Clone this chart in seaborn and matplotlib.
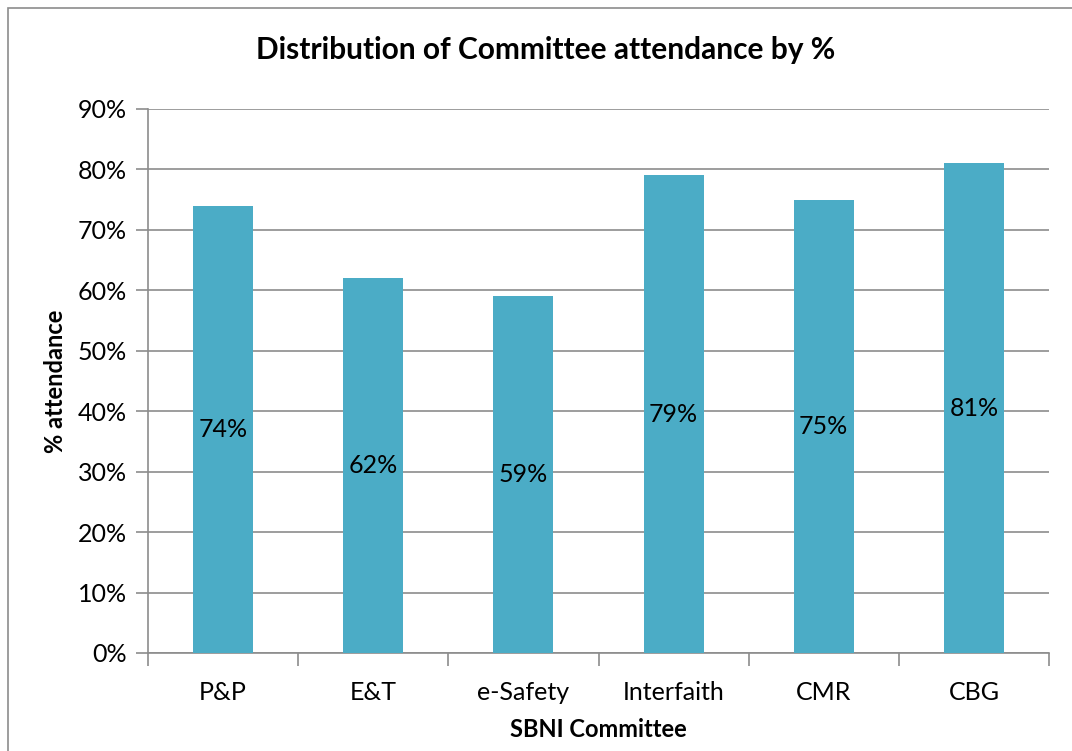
import pandas as pd
import seaborn as sns
import matplotlib.pyplot as plt
from matplotlib.patches import Rectangle

committees = ['P&P', 'E&T', 'e-Safety', 'Interfaith', 'CMR', 'CBG']
attendance = [74, 62, 59, 79, 75, 81]

df = pd.DataFrame({'Committee': committees, 'Attendance': attendance})

sns.set_theme(style='white', rc={'text.color': 'black', 'axes.labelcolor': 'black',
                                 'xtick.color': 'black', 'ytick.color': 'black'})
plt.rcParams['font.family'] = ['Lato', 'DejaVu Sans']

fig = plt.figure(figsize=(10.72, 7.51), dpi=100)
ax = fig.add_axes([148 / 1072, 1 - 653 / 751, (1049 - 148) / 1072, (653 - 109) / 751])

# outer chart frame
fig.patches.append(Rectangle((8 / 1072, -0.01), 1.1, 1 - 8 / 751 + 0.01, transform=fig.transFigure,
                             fill=False, edgecolor='#8c8c8c', linewidth=1.2))

sns.barplot(x='Committee', y='Attendance', data=df, color='#4BACC6', width=0.4,
            saturation=1, linewidth=0, ax=ax, zorder=3)

for i, v in enumerate(attendance):
    ax.text(i, v / 2, f'{v}%', ha='center', va='center', fontsize=18, color='black', zorder=4)

ax.set_ylim(0, 90)
ax.set_xlim(-0.5, len(committees) - 0.5)
ax.set_yticks(range(0, 91, 10))
ax.set_yticklabels([f'{t}%' for t in range(0, 91, 10)], fontsize=18)
ax.yaxis.grid(True, color='#8c8c8c', linewidth=1.2, zorder=0)
ax.tick_params(axis='x', labelsize=18, length=0, pad=20)
ax.tick_params(axis='y', left=True, length=9, width=1.2, color='#8c8c8c', pad=6)

# x tick marks between categories
ax.set_xticks([i - 0.5 for i in range(len(committees) + 1)], minor=True)
ax.tick_params(axis='x', which='minor', bottom=True, length=9, width=1.2, color='#8c8c8c')

for side in ['top', 'right']:
    ax.spines[side].set_visible(False)
for side in ['left', 'bottom']:
    ax.spines[side].set_color('#8c8c8c')
    ax.spines[side].set_linewidth(1.2)

ax.set_xlabel('SBNI Committee', fontsize=17, fontweight='bold', labelpad=10)
ax.set_ylabel('% attendance', fontsize=17, fontweight='bold', labelpad=8)
fig.text(546 / 1072, 1 - 50 / 751, 'Distribution of Committee attendance by %',
         ha='center', va='center', fontsize=21.5, fontweight='bold')

fig.savefig('out.png', dpi=100)
